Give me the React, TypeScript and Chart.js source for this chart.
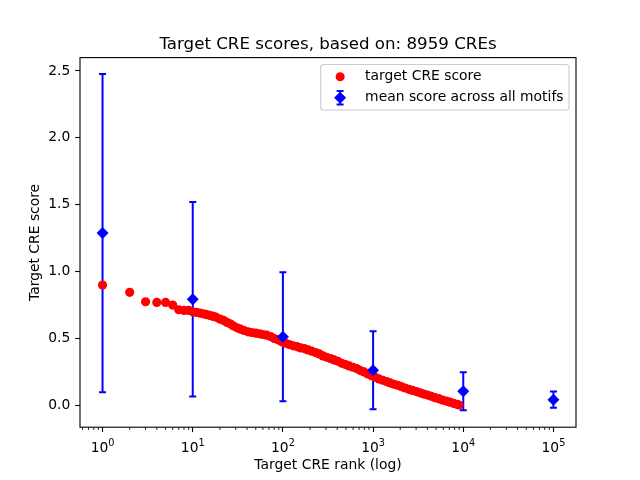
import React, { useEffect, useRef } from "react";
import { Chart, registerables } from "chart.js";

Chart.register(...registerables);

const TITLE = "Target CRE scores, based on: 8959 CREs";
const X_LABEL = "Target CRE rank (log)";
const Y_LABEL = "Target CRE score";
const SCORE_LABEL = "target CRE score";
const MEAN_LABEL = "mean score across all motifs";

// red series: rank -> target CRE score
const ranks = [
  1, 2, 3, 4, 5, 6, 7, 8, 9, 10, 11, 12, 13, 14, 15, 16, 17, 18, 20, 22, 24, 26, 28, 31, 34, 37, 41, 45, 50,
  55, 60, 66, 73, 80, 88, 97, 107, 118, 130, 143, 157, 173, 190, 209, 230, 253, 278, 306, 337, 371, 408, 449,
  494, 543, 597, 657, 723, 795, 875, 962, 1058, 1164, 1280, 1408, 1549, 1704, 1874, 2062, 2268, 2495, 2744,
  3018, 3320, 3652, 4017, 4419, 4861, 5347, 5882, 6470, 7117, 7829, 8612, 8959,
];
const scores = [
  0.9, 0.845, 0.775, 0.77, 0.77, 0.75, 0.715, 0.71, 0.71, 0.7, 0.695, 0.69, 0.685, 0.68, 0.675, 0.67, 0.665,
  0.66, 0.645, 0.635, 0.62, 0.61, 0.595, 0.58, 0.57, 0.56, 0.55, 0.545, 0.54, 0.535, 0.53, 0.525, 0.515, 0.5,
  0.49, 0.475, 0.465, 0.455, 0.445, 0.44, 0.43, 0.425, 0.415, 0.405, 0.395, 0.385, 0.37, 0.36, 0.35, 0.34,
  0.33, 0.315, 0.305, 0.295, 0.285, 0.275, 0.26, 0.25, 0.235, 0.222, 0.21, 0.198, 0.188, 0.178, 0.168, 0.158,
  0.15, 0.14, 0.13, 0.12, 0.112, 0.103, 0.094, 0.085, 0.077, 0.068, 0.058, 0.05, 0.04, 0.032, 0.024, 0.015,
  0.007, 0.003,
];

// blue series: mean score with symmetric error
const meanRanks = [1, 10, 100, 1000, 10000, 100000];
const meanScores = [1.288, 0.793, 0.513, 0.263, 0.105, 0.043];
const meanErrors = [1.19, 0.727, 0.482, 0.292, 0.142, 0.06];

const xTickExponents = [0, 1, 2, 3, 4, 5];
const yTicks = [0, 0.5, 1, 1.5, 2, 2.5];

const X_MIN = Math.pow(10, -0.25);
const X_MAX = Math.pow(10, 5.25);
const Y_MIN = -0.163;
const Y_MAX = 2.6;

const FONT = "'DejaVu Sans', 'Liberation Sans', sans-serif";
const FS = 13.89;

function roundRectPath(ctx: CanvasRenderingContext2D, x: number, y: number, w: number, h: number, r: number) {
  ctx.beginPath();
  ctx.moveTo(x + r, y);
  ctx.lineTo(x + w - r, y);
  ctx.arcTo(x + w, y, x + w, y + r, r);
  ctx.lineTo(x + w, y + h - r);
  ctx.arcTo(x + w, y + h, x + w - r, y + h, r);
  ctx.lineTo(x + r, y + h);
  ctx.arcTo(x, y + h, x, y + h - r, r);
  ctx.lineTo(x, y + r);
  ctx.arcTo(x, y, x + r, y, r);
  ctx.closePath();
}

const overlayPlugin = {
  id: "overlay",
  beforeDatasetsDraw(chart: any) {
    const ctx = chart.ctx as CanvasRenderingContext2D;
    const xs = chart.scales.x;
    const ys = chart.scales.y;
    ctx.save();
    ctx.strokeStyle = "#0000ff";
    ctx.lineWidth = 2;
    meanRanks.forEach((r, i) => {
      const px = xs.getPixelForValue(r);
      const top = ys.getPixelForValue(meanScores[i] + meanErrors[i]);
      const bot = ys.getPixelForValue(meanScores[i] - meanErrors[i]);
      ctx.beginPath();
      ctx.moveTo(px, top);
      ctx.lineTo(px, bot);
      ctx.stroke();
    });
    ctx.restore();
  },
  beforeDatasetDraw(chart: any, args: any) {
    if (args.index !== 0) return;
    const ctx = chart.ctx as CanvasRenderingContext2D;
    const xs = chart.scales.x;
    const ys = chart.scales.y;
    ctx.save();
    ctx.strokeStyle = "#0000ff";
    ctx.lineWidth = 2;
    meanRanks.forEach((r, i) => {
      const px = xs.getPixelForValue(r);
      const top = ys.getPixelForValue(meanScores[i] + meanErrors[i]);
      const bot = ys.getPixelForValue(meanScores[i] - meanErrors[i]);
      ctx.beginPath();
      ctx.moveTo(px - 3.5, top);
      ctx.lineTo(px + 3.5, top);
      ctx.moveTo(px - 3.5, bot);
      ctx.lineTo(px + 3.5, bot);
      ctx.stroke();
    });
    ctx.restore();
  },
  afterDraw(chart: any) {
    const ctx = chart.ctx as CanvasRenderingContext2D;
    const xs = chart.scales.x;
    const area = chart.chartArea;
    ctx.save();

    // axes frame
    ctx.strokeStyle = "#000";
    ctx.lineWidth = 1.1;
    ctx.strokeRect(area.left, area.top, area.right - area.left, area.bottom - area.top);

    // minor x ticks
    ctx.lineWidth = 0.85;
    for (let k = -1; k <= 5; k++) {
      for (let m = 2; m <= 9; m++) {
        const v = m * Math.pow(10, k);
        if (v < X_MIN || v > X_MAX) continue;
        const px = xs.getPixelForValue(v);
        ctx.beginPath();
        ctx.moveTo(px, area.bottom);
        ctx.lineTo(px, area.bottom + 2.78);
        ctx.stroke();
      }
    }

    // x tick labels 10^k
    ctx.fillStyle = "#000";
    ctx.textBaseline = "alphabetic";
    ctx.textAlign = "left";
    xTickExponents.forEach((e) => {
      const px = xs.getPixelForValue(Math.pow(10, e));
      ctx.font = `${FS}px ${FONT}`;
      const bw = ctx.measureText("10").width;
      ctx.font = `${FS * 0.7}px ${FONT}`;
      const ew = ctx.measureText(String(e)).width;
      const start = px - (bw + ew) / 2;
      ctx.font = `${FS}px ${FONT}`;
      ctx.fillText("10", start, area.bottom + 24.4);
      ctx.font = `${FS * 0.7}px ${FONT}`;
      ctx.fillText(String(e), start + bw, area.bottom + 19.1);
    });

    // title
    ctx.font = `16.67px ${FONT}`;
    ctx.textAlign = "center";
    ctx.fillText(TITLE, (area.left + area.right) / 2, area.top - 8.3);

    // legend
    ctx.font = `${FS}px ${FONT}`;
    const tw = Math.max(ctx.measureText(SCORE_LABEL).width, ctx.measureText(MEAN_LABEL).width);
    const right = area.right - 6.94;
    const top = area.top + 6.94;
    const w = 5.56 * 2 + 27.8 + 11.1 + tw;
    const h = 45.5;
    const left = right - w;
    roundRectPath(ctx, left, top, w, h, 3);
    ctx.fillStyle = "rgba(255,255,255,0.8)";
    ctx.fill();
    ctx.strokeStyle = "#cccccc";
    ctx.lineWidth = 1.1;
    ctx.stroke();

    const hx = left + 5.56 + 13.9;
    const tx = left + 5.56 + 27.8 + 11.1;
    const r1 = top + 12.2;
    const r2 = top + 33.2;

    ctx.fillStyle = "#ff0000";
    ctx.beginPath();
    ctx.arc(hx, r1, 4.5, 0, Math.PI * 2);
    ctx.fill();

    ctx.strokeStyle = "#0000ff";
    ctx.lineWidth = 2;
    ctx.beginPath();
    ctx.moveTo(hx, r2 - 6.7);
    ctx.lineTo(hx, r2 + 6.7);
    ctx.moveTo(hx - 3.5, r2 - 6.7);
    ctx.lineTo(hx + 3.5, r2 - 6.7);
    ctx.moveTo(hx - 3.5, r2 + 6.7);
    ctx.lineTo(hx + 3.5, r2 + 6.7);
    ctx.stroke();
    ctx.fillStyle = "#0000ff";
    ctx.beginPath();
    ctx.moveTo(hx - 6, r2);
    ctx.lineTo(hx, r2 - 6);
    ctx.lineTo(hx + 6, r2);
    ctx.lineTo(hx, r2 + 6);
    ctx.closePath();
    ctx.fill();

    ctx.fillStyle = "#000";
    ctx.textAlign = "left";
    ctx.textBaseline = "middle";
    ctx.fillText(SCORE_LABEL, tx, r1);
    ctx.fillText(MEAN_LABEL, tx, r2);

    ctx.restore();
  },
};

export default function App() {
  const canvasRef = useRef<HTMLCanvasElement | null>(null);

  useEffect(() => {
    if (!canvasRef.current) return;
    const chart = new Chart(canvasRef.current, {
      type: "scatter",
      data: {
        datasets: [
          {
            label: MEAN_LABEL,
            data: meanRanks.map((r, i) => ({ x: r, y: meanScores[i] })),
            pointStyle: "rectRot",
            pointRadius: 6,
            pointBackgroundColor: "#0000ff",
            pointBorderColor: "#0000ff",
            pointBorderWidth: 0,
            showLine: false,
          },
          {
            label: SCORE_LABEL,
            data: ranks.map((r, i) => ({ x: r, y: scores[i] })),
            pointStyle: "circle",
            pointRadius: 4.6,
            pointBackgroundColor: "#ff0000",
            pointBorderColor: "#ff0000",
            pointBorderWidth: 0,
            showLine: false,
          },
        ],
      },
      options: {
        animation: false,
        responsive: false,
        events: [],
        layout: { padding: { left: 0, top: 57.6, right: 64, bottom: 0 } },
        plugins: {
          legend: { display: false },
          tooltip: { enabled: false },
          title: { display: false },
        },
        scales: {
          x: {
            type: "logarithmic",
            min: X_MIN,
            max: X_MAX,
            afterBuildTicks: (s: any) => {
              s.ticks = xTickExponents.map((e) => ({ value: Math.pow(10, e), major: true }));
            },
            afterFit: (s: any) => {
              s.height = 52.8;
            },
            ticks: { callback: () => "", autoSkip: false, padding: 4.86 },
            grid: {
              drawOnChartArea: false,
              drawTicks: true,
              tickLength: 4.86,
              tickColor: "#000",
              tickWidth: 1.1,
            },
            border: { display: false },
            title: {
              display: true,
              text: X_LABEL,
              color: "#000",
              font: { family: FONT, size: FS },
              padding: { top: 0, bottom: 6.2 },
            },
          },
          y: {
            type: "linear",
            min: Y_MIN,
            max: Y_MAX,
            afterBuildTicks: (s: any) => {
              s.ticks = yTicks.map((v) => ({ value: v }));
            },
            afterFit: (s: any) => {
              s.width = 80;
            },
            ticks: {
              callback: (v: any) => Number(v).toFixed(1),
              color: "#000",
              font: { family: FONT, size: FS },
              padding: 4.86,
              autoSkip: false,
            },
            grid: {
              drawOnChartArea: false,
              drawTicks: true,
              tickLength: 4.86,
              tickColor: "#000",
              tickWidth: 1.1,
            },
            border: { display: false },
            title: {
              display: true,
              text: Y_LABEL,
              color: "#000",
              font: { family: FONT, size: FS },
              padding: { top: 26.7, bottom: 0 },
            },
          },
        },
      },
      plugins: [overlayPlugin],
    });
    return () => chart.destroy();
  }, []);

  return (
    <div style={{ position: "fixed", left: 0, top: 0, width: 640, height: 480, background: "#fff" }}>
      <canvas ref={canvasRef} width={640} height={480} style={{ width: 640, height: 480, display: "block" }} />
    </div>
  );
}
